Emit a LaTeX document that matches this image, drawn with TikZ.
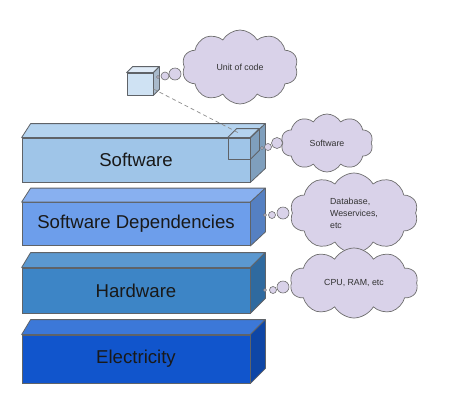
\documentclass[tikz,border=0pt]{standalone}
\usepackage{fontspec}
\setmainfont{Liberation Sans}
\usepackage{xcolor}
\usetikzlibrary{shapes,positioning,calc}

\definecolor{edgegray}{HTML}{5F6368}
\definecolor{cloudfill}{HTML}{D9D2E9}
\definecolor{cloudedge}{HTML}{6E6E6E}
\definecolor{linkgray}{HTML}{8C8C8C}
\definecolor{softfront}{HTML}{9FC5E8}
\definecolor{softtop}{HTML}{B4D3EF}
\definecolor{softside}{HTML}{7F9FBD}
\definecolor{depsfront}{HTML}{6D9EEB}
\definecolor{depstop}{HTML}{88B0F0}
\definecolor{depsside}{HTML}{5580C2}
\definecolor{hardfront}{HTML}{3D85C6}
\definecolor{hardtop}{HTML}{5B98D0}
\definecolor{hardside}{HTML}{2F6A9F}
\definecolor{elecfront}{HTML}{1155CC}
\definecolor{electop}{HTML}{3C78D8}
\definecolor{elecside}{HTML}{0E46A6}
\definecolor{cubefront}{HTML}{CFE2F3}
\definecolor{cubetop}{HTML}{DFEBF7}
\definecolor{cubeside}{HTML}{A9BACB}

% top and side faces of a block: node, top colour, side colour, left dx, right dx, depth
\newcommand{\blockfaces}[6]{%
  \path[face, fill=#2] (#1.north west) -- ++(#4,-#6) -- ($(#1.north east)+(#5,-#6)$) -- (#1.north east) -- cycle;
  \path[face, fill=#3] (#1.north east) -- ++(#5,-#6) -- ($(#1.south east)+(#5,-#6)$) -- (#1.south east) -- cycle;
}

\begin{document}
\begin{tikzpicture}[x=1pt, y=-1pt,
        layer/.style={rectangle, draw=edgegray, line width=0.8pt, minimum width=228pt, inner sep=0pt, font=\fontsize{18.6}{20}\selectfont, text=black!90},
        face/.style={draw=edgegray, line width=0.8pt, line join=round},
        thought/.style={cloud, cloud puffs=10, cloud puff arc=120, cloud ignores aspect, draw=cloudedge, fill=cloudfill, line width=0.7pt, font=\fontsize{8.8}{12}\selectfont, text=black!80, inner sep=0pt, align=left},
        dot/.style={circle, draw=cloudedge, fill=cloudfill, line width=0.6pt, inner sep=0pt},
        link/.style={draw=linkgray, line width=0.7pt, dash pattern=on 4pt off 3pt}
    ]
    \useasboundingbox (0,0) rectangle (449,408);

    % Layers
    \node[layer, minimum height=44pt, fill=softfront] (soft) at (136,160) {Software};
    \blockfaces{soft}{softtop}{softside}{9}{15}{14}

    \node[layer, minimum height=43pt, fill=depsfront] (deps) at (136,224) {Software Dependencies};
    \blockfaces{deps}{depstop}{depsside}{9}{15}{14}

    \node[layer, minimum height=45pt, fill=hardfront] (hard) at (136,290.5) {Hardware};
    \blockfaces{hard}{hardtop}{hardside}{9}{15}{15}

    \node[layer, minimum height=48pt, fill=elecfront] (elec) at (136,359) {Electricity};
    \blockfaces{elec}{electop}{elecside}{9}{15}{15}

    % Unit of code
    \node[face, minimum width=26pt, minimum height=22pt, inner sep=0pt, fill=cubefront] (cube) at (140,84) {};
    \blockfaces{cube}{cubetop}{cubeside}{6}{6}{6}

    \node[face, minimum width=22pt, minimum height=21pt, inner sep=0pt] (incube) at (239,148.5) {};
    \blockfaces{incube}{none}{none}{9}{9}{9}

    \draw[link] ([yshift=-5pt]cube.east) -- ([xshift=1pt, yshift=4pt]incube.north);

    % Thought clouds
    \node[thought, minimum width=116pt, minimum height=74pt] (ucloud) at (240,67) {Unit of code};
    \node[dot, minimum size=12pt] (u3) at (175,74) {};
    \node[dot, minimum size=8pt] (u2) at (165,76) {};
    \node[dot, minimum size=3pt] (u1) at (158,77) {};

    \node[thought, minimum width=92pt, minimum height=58pt] (scloud) at (327,143) {Software};
    \node[dot, minimum size=11pt] (s3) at (277,143) {};
    \node[dot, minimum size=7pt] (s2) at (268,147) {};
    \node[dot, minimum size=3pt] (s1) at (262,148) {};

    \node[thought, minimum width=128pt, minimum height=80pt] (dcloud) at (354,213) {Database,\\Weservices,\\etc\hspace*{14pt}};
    \node[dot, minimum size=12pt] (d3) at (283,213) {};
    \node[dot, minimum size=7pt] (d2) at (272,215) {};
    \node[dot, minimum size=3pt] (d1) at (265,215) {};

    \node[thought, minimum width=128pt, minimum height=70pt] (hcloud) at (354,283) {CPU, RAM, etc};
    \node[dot, minimum size=12pt] (h3) at (283,287) {};
    \node[dot, minimum size=7pt] (h2) at (273,290) {};
    \node[dot, minimum size=3pt] (h1) at (265,290) {};

\end{tikzpicture}
\end{document}
